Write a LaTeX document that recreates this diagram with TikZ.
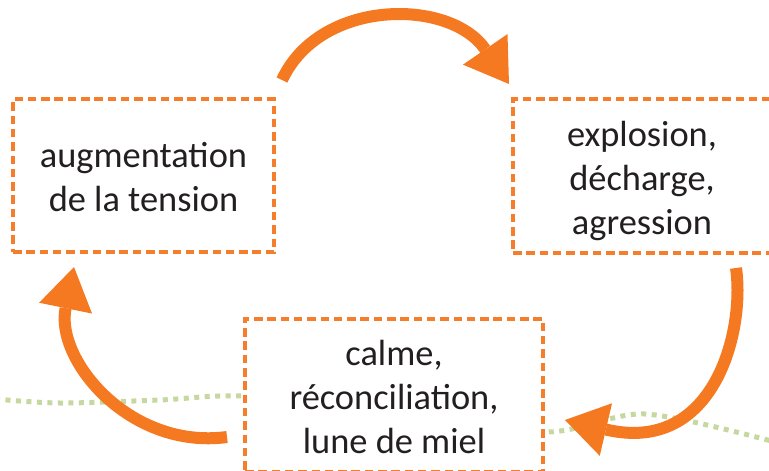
\documentclass[tikz,border=0pt]{standalone}
\usepackage{fontspec}
\setmainfont{Carlito}
\usetikzlibrary{arrows.meta}

\definecolor{cycleorange}{HTML}{F47920}
\definecolor{boxorange}{HTML}{F47E2C}
\definecolor{groundgreen}{HTML}{C5D89F}
\definecolor{textgray}{HTML}{231F20}

% struts so that every box sets its lines at the same height
\newcommand{\topstrut}{\rule{0pt}{36pt}}
\newcommand{\botstrut}{\rule[-8pt]{0pt}{0pt}}

\tikzset{
    phase/.style={draw=boxorange, line width=3.2pt, dash pattern=on 8.5pt off 4.8pt,
        fill=white, text=textgray, align=center, inner sep=0pt, outer sep=0pt,
        font=\fontsize{36.4}{44}\selectfont},
    cyclearrow/.style={draw=cycleorange, line width=12pt,
        -{Triangle[length=42pt, width=54pt, line width=0pt]}},
    groundline/.style={draw=groundgreen, line width=5pt, dash pattern=on 5pt off 5.5pt}
}

\begin{document}
\begin{tikzpicture}[x=1pt, y=-1pt]
        \useasboundingbox (0,0) rectangle (769,471);
        \clip (0,0) rectangle (769,471);

        % Dotted ground line (behind everything)
        \draw[groundline] plot[smooth] coordinates
            {(-5,399) (60,403) (160,400) (245,396) (400,410) (545,432) (645,414) (775,442)};

        % Phases of the cycle
        \node[phase, minimum width=261pt, minimum height=153pt] (tension) at (143.5,175.5)
            {\topstrut augmentation\\de la tension\botstrut};
        \node[phase, minimum width=258pt, minimum height=154pt] (explosion) at (642,176)
            {\topstrut explosion,\\décharge,\\agression\botstrut};
        \node[phase, minimum width=298pt, minimum height=153pt] (calme) at (394,395.5)
            {\topstrut calme,\\réconciliation,\\lune de miel\botstrut};

        % Arrows between the phases
        \draw[cyclearrow] ([shift={(8,-19)}]tension.north east)
            .. controls +(38,-82) and +(-59,-86) .. ([shift={(-4,-15)}]explosion.north west);
        \draw[cyclearrow] ([shift={(94,15)}]explosion.south)
            .. controls +(9,62) and +(150,35) .. ([shift={(22,24.5)}]calme.east);
        \draw[cyclearrow] ([shift={(-18,41.5)}]calme.west)
            .. controls +(-97,13) and +(-19,93) .. ([shift={(-69.5,15)}]tension.south);
    \end{tikzpicture}
\end{document}
